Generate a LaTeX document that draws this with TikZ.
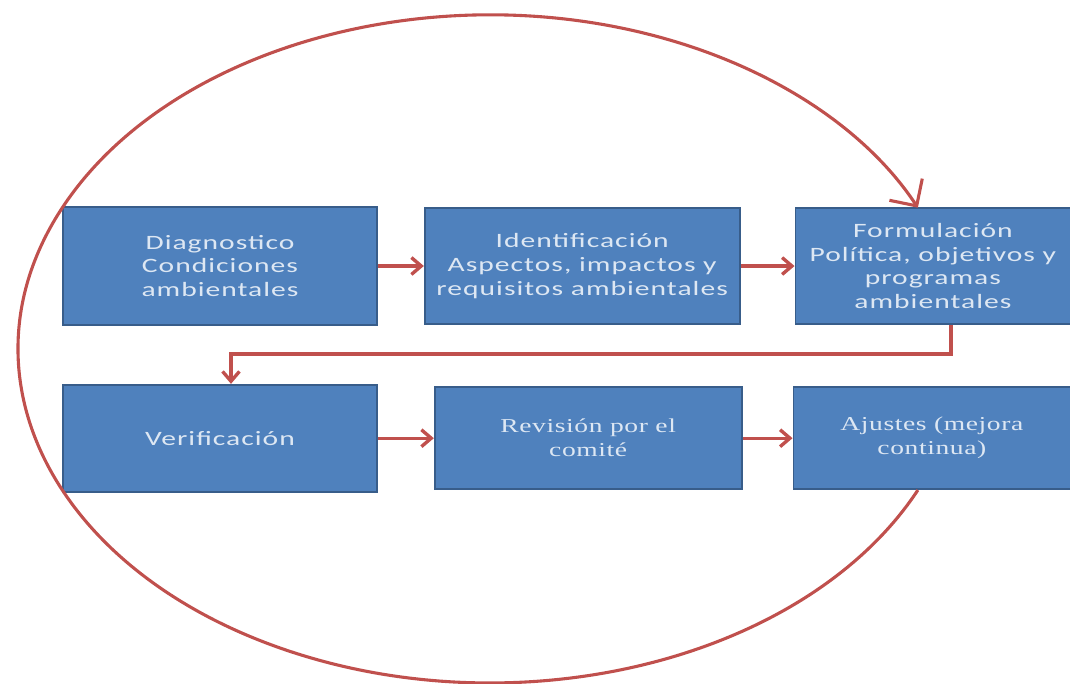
\documentclass[tikz,border=0pt]{standalone}
\usepackage{fontspec}
\usepackage{xcolor}
\usepackage{tikz}
\usetikzlibrary{positioning,arrows.meta}

\newfontfamily\cajafont[FakeStretch=1.45,LetterSpace=5]{Carlito}
\newfontfamily\serifcaja[FakeStretch=1.4,LetterSpace=3]{Liberation Serif}

\definecolor{azulcaja}{HTML}{4F81BD}
\definecolor{bordeazul}{HTML}{385D8A}
\definecolor{textocaja}{HTML}{DDE7F3}
\definecolor{rojoflecha}{HTML}{C0504D}

\begin{document}
\begin{tikzpicture}[
  node distance=1.15cm,
  bloque/.style={rectangle, draw=bordeazul, line width=1.2pt, fill=azulcaja, text=textocaja, align=center, anchor=center, font=\cajafont\fontsize{14.5}{17}\selectfont},
  bloqueserif/.style={bloque, font=\serifcaja\fontsize{14}{17}\selectfont},
  flecha/.style={-{Straight Barb[length=7pt,width=12pt]}, line width=2.4pt, draw=rojoflecha}
]
\useasboundingbox (0,0) rectangle (26.75,-17.075);

\node[bloque, minimum width=7.85cm, minimum height=2.95cm] (diag) at (5.5,-6.65) {Diagnostico\\Condiciones\\ambientales};
\node[bloque, minimum width=7.875cm, minimum height=2.9cm, right=1.15cm of diag] (ident) {Identificación\\Aspectos, impactos y\\requisitos ambientales};
\node[bloque, minimum width=6.875cm, minimum height=2.9cm, right=1.35cm of ident] (formul) {Formulación\\Política, objetivos y\\programas\\ambientales};
\node[bloque, minimum width=7.85cm, minimum height=2.675cm, below=1.45cm of diag] (verif) {Verificación};
\node[bloqueserif, minimum width=7.675cm, minimum height=2.55cm, right=1.4cm of verif] (revis) {Revisión por el\\comité};
\node[bloqueserif, minimum width=6.925cm, minimum height=2.55cm, right=1.25cm of revis] (ajust) {Ajustes (mejora\\continua)};

\draw[flecha] (diag) -- (ident);
\draw[flecha] (ident) -- (formul);
\draw[flecha] ([xshift=0.45cm]formul.south) -- ++(0,-0.725) -| ([xshift=0.275cm]verif.north);
\draw[flecha] (verif) -- (revis);
\draw[flecha] (revis) -- (ajust);
% ciclo de mejora continua
\draw[flecha, line width=2.2pt, -{Straight Barb[length=14pt,width=28pt]}] ([xshift=-0.35cm]ajust.south) arc[start angle=-25, end angle=-335, x radius=11.8cm, y radius=8.35cm];
\end{tikzpicture}
\end{document}
